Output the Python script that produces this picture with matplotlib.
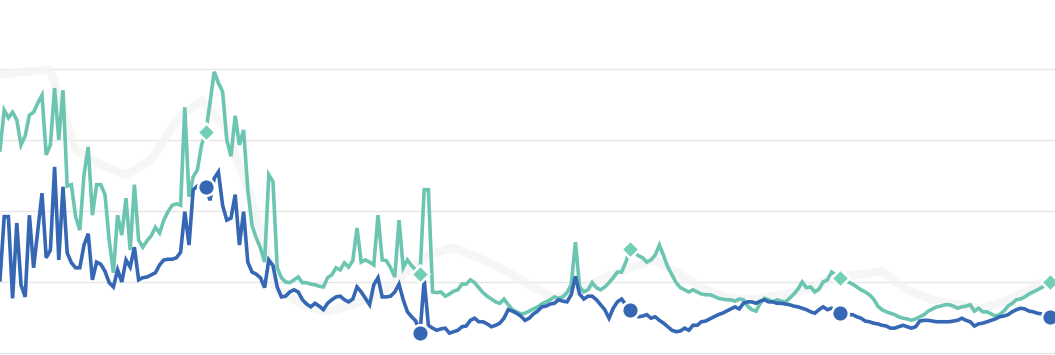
import numpy as np
import matplotlib
matplotlib.use("Agg")
import matplotlib.pyplot as plt

# Series values (one point per period)
blue = [10.3, 19.2, 19.2, 7.7, 18.3, 9.6, 7.9, 19.4, 12.0, 17.3,
        22.5, 13.4, 14.5, 26.2, 13.1, 23.4, 14.1, 12.7, 12.0, 12.0,
        15.2, 16.8, 10.3, 12.8, 12.5, 11.5, 9.9, 9.3, 11.7, 10.0,
        13.1, 12.1, 14.9, 10.3, 10.6, 10.7, 11.0, 11.3, 12.4, 13.1,
        13.2, 13.2, 13.4, 14.2, 19.9, 15.2, 23.0, 23.5, 23.0, 23.4,
        21.5, 24.6, 25.5, 20.8, 18.7, 19.0, 22.3, 15.2, 19.9, 12.8,
        11.4, 11.1, 10.6, 9.2, 13.1, 12.3, 9.3, 7.9, 8.0, 8.6,
        8.9, 8.6, 7.5, 6.9, 6.5, 7.0, 6.6, 6.1, 7.0, 7.5,
        7.9, 8.0, 7.5, 7.2, 7.6, 9.3, 8.6, 7.7, 6.8, 9.6,
        10.6, 7.9, 7.9, 8.0, 8.6, 9.7, 7.5, 5.8, 5.1, 4.5,
        2.8, 10.3, 3.9, 3.5, 3.2, 3.4, 3.5, 2.8, 3.0, 3.2,
        3.7, 3.8, 4.6, 4.9, 4.4, 4.4, 4.1, 3.7, 3.9, 4.2,
        4.9, 6.1, 5.9, 5.6, 5.2, 4.6, 4.9, 5.5, 5.9, 6.5,
        6.6, 6.9, 7.0, 7.5, 7.3, 7.2, 8.2, 10.8, 8.3, 7.6,
        8.0, 8.0, 7.5, 6.8, 6.1, 4.9, 6.3, 7.2, 7.6, 6.8,
        6.1, 5.5, 5.1, 5.2, 5.4, 4.9, 5.1, 4.6, 4.2, 3.7,
        3.2, 3.0, 3.1, 3.5, 3.2, 3.9, 3.9, 4.4, 4.5, 4.8,
        5.1, 5.4, 5.6, 5.9, 6.2, 6.5, 6.2, 7.0, 7.2, 7.2,
        7.0, 7.3, 7.5, 7.2, 7.2, 7.0, 7.0, 6.9, 6.8, 6.6,
        6.5, 6.3, 6.1, 5.8, 5.6, 6.1, 6.5, 6.1, 6.3, 6.1,
        5.6, 5.6, 5.4, 5.4, 5.1, 4.9, 4.5, 4.4, 4.2, 4.1,
        3.9, 3.8, 3.5, 3.5, 3.7, 3.9, 3.7, 3.5, 3.7, 4.5,
        4.6, 4.6, 4.5, 4.4, 4.4, 4.4, 4.4, 4.5, 4.6, 4.9,
        4.6, 4.4, 3.8, 4.1, 4.2, 4.4, 4.6, 4.8, 5.1, 5.2,
        5.4, 5.8, 6.1, 6.3, 6.2, 5.9, 5.8, 5.6, 5.5, 5.4,
        5.1, 4.9]

teal = [28.6, 34.2, 33.1, 33.9, 32.8, 29.3, 30.6, 33.5, 33.9, 35.2,
        36.3, 27.9, 29.3, 37.3, 30.0, 37.0, 23.5, 23.7, 19.2, 17.3,
        25.1, 29.0, 19.4, 23.7, 23.7, 22.3, 15.9, 11.3, 19.4, 16.6,
        21.8, 14.5, 23.7, 15.9, 14.9, 15.8, 16.5, 17.7, 16.9, 18.7,
        19.9, 20.8, 21.0, 20.8, 34.6, 22.0, 24.8, 25.8, 29.3, 31.1,
        35.2, 39.6, 38.0, 36.8, 30.0, 27.7, 33.4, 29.3, 31.4, 23.0,
        18.0, 16.2, 14.8, 12.8, 25.1, 24.1, 12.0, 10.6, 10.0, 9.9,
        10.3, 10.7, 9.9, 9.9, 9.7, 9.6, 9.4, 9.3, 10.6, 11.0,
        12.0, 11.7, 12.7, 12.1, 13.0, 17.6, 12.8, 13.1, 12.8, 12.4,
        19.4, 13.1, 13.0, 12.0, 10.7, 18.7, 12.0, 13.1, 12.3, 11.7,
        11.1, 23.0, 23.0, 8.6, 8.5, 8.6, 8.0, 8.3, 8.7, 8.9,
        9.7, 9.7, 10.3, 9.9, 9.2, 8.5, 8.0, 7.6, 7.2, 7.0,
        7.6, 6.8, 6.1, 5.8, 5.5, 5.6, 5.9, 6.2, 6.5, 6.9,
        7.2, 7.5, 7.9, 7.7, 7.9, 8.5, 9.6, 15.6, 9.3, 8.6,
        8.9, 9.9, 9.2, 8.9, 9.3, 9.9, 10.6, 11.4, 11.4, 12.8,
        14.6, 14.2, 13.7, 13.4, 12.8, 13.1, 13.8, 15.2, 13.7, 12.1,
        11.0, 9.9, 9.2, 8.9, 8.6, 8.9, 8.6, 8.3, 8.2, 8.2,
        8.0, 7.7, 7.6, 7.5, 7.5, 7.3, 7.6, 7.5, 6.6, 6.1,
        5.9, 7.0, 7.7, 7.5, 7.2, 7.5, 7.3, 7.2, 7.7, 8.3,
        9.0, 10.0, 9.2, 9.3, 8.6, 9.0, 10.0, 10.3, 11.4, 11.0,
        10.6, 10.3, 10.0, 9.7, 9.3, 8.9, 8.6, 8.2, 7.6, 6.6,
        6.1, 5.8, 5.6, 5.4, 5.1, 4.9, 4.8, 4.6, 4.8, 5.1,
        5.4, 5.9, 6.2, 6.5, 6.6, 6.8, 6.8, 6.6, 6.3, 6.5,
        6.6, 6.8, 5.9, 6.3, 5.8, 5.8, 5.5, 5.2, 5.4, 5.9,
        6.6, 7.0, 7.5, 7.6, 7.9, 8.3, 8.6, 8.9, 9.2, 9.6,
        10.0, 10.3]

# faint background series (coarser sampling)
grey_idx = [0, 6, 12, 18, 24, 30, 36, 42, 48, 54, 60, 66, 72, 78, 84, 90,
            96, 102, 108, 114, 120, 126, 132, 138, 144, 150, 156, 162, 168,
            174, 180, 186, 192, 198, 204, 210, 216, 222, 228, 234, 240, 246, 251]
grey = [39.2, 39.6, 39.9, 28.6, 26.5, 25.1, 27.2, 32.8, 35.6, 31.4, 21.5, 8.9,
        6.8, 5.8, 6.8, 8.2, 11.0, 13.8, 14.8, 13.4, 11.7, 9.6, 7.7, 8.9, 10.6,
        12.0, 13.1, 11.0, 8.9, 7.7, 7.5, 8.2, 8.9, 10.6, 11.0, 11.5, 8.9, 7.5,
        6.8, 6.3, 7.5, 9.2, 10.6]

marker_idx = [49, 100, 150, 200, 250]
grid_vals = [0, 10, 20, 30, 40]

BLUE = "#3567b5"
TEAL = "#6cc5b0"
TEAL_MK = "#72cfb6"

fig = plt.figure(figsize=(10.55, 3.55), dpi=100)
ax = fig.add_axes([0, 0, 1, 1])
x = np.arange(len(blue))

for g in grid_vals:
    ax.axhline(g, color="#e6e6e6", lw=1.0, zorder=0)

ax.plot(grey_idx, grey, color="#f3f3f3", lw=6, alpha=0.7, zorder=1,
        solid_joinstyle="round")
ax.plot(x, teal, color=TEAL, lw=2.6, zorder=2, solid_joinstyle="miter")
ax.plot(x, blue, color=BLUE, lw=2.6, zorder=3, solid_joinstyle="miter")

ax.plot(x[marker_idx], np.array(teal)[marker_idx], ls="none", marker="D",
        ms=9.5, mfc=TEAL_MK, mec="white", mew=1.8, zorder=4)
ax.plot(x[marker_idx], np.array(blue)[marker_idx], ls="none", marker="o",
        ms=12, mfc=BLUE, mec="white", mew=1.8, zorder=5)

ax.set_xlim(0, 1055 / 4.2)
ax.set_ylim(-0.28, 49.7)
ax.axis("off")
fig.savefig("out.png", dpi=100)
